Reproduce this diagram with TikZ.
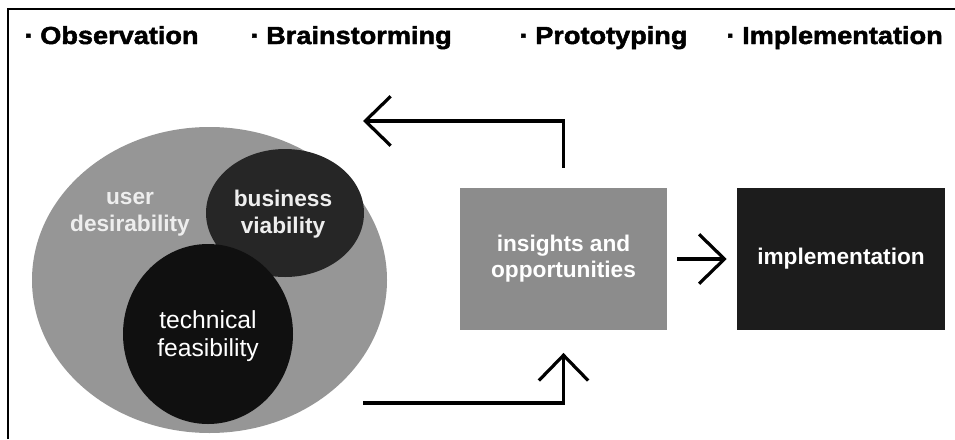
\documentclass[tikz,border=0pt]{standalone}
\usepackage{fontspec}
\setmainfont{Liberation Sans}
\newfontfamily\hdrfont[FakeBold=2,FakeStretch=1.1]{Liberation Sans Bold}
\usetikzlibrary{arrows.meta}
\definecolor{ringgray}{HTML}{969696}
\definecolor{bizdark}{HTML}{262626}
\definecolor{techdark}{HTML}{101010}
\definecolor{insightgray}{HTML}{8C8C8C}
\definecolor{impldark}{HTML}{1C1C1C}
\definecolor{softwhite}{HTML}{EEEEEE}
\tikzset{
  hdr/.style={anchor=base west, inner sep=0pt, font=\fontsize{18.5}{22}\hdrfont},
  venntext/.style={align=center, inner sep=0pt, font=\fontsize{17}{20.5}\selectfont\bfseries},
  boxtext/.style={align=center, text=white, font=\fontsize{17}{19.5}\selectfont\bfseries},
  flow/.style={line width=2.4pt, -{Straight Barb[length=19pt,width=37pt,line width=2.4pt]}},
  frame/.style={line width=1.8pt}
}
\newcommand{\hdot}{\makebox[0pt][r]{·\hspace{5pt}}}
\begin{document}
\begin{tikzpicture}[x=0.75pt,y=-0.75pt]
\useasboundingbox (0,0) rectangle (955,439);

% frame: top rule and left rule only
\draw[frame] (8,439) -- (8,9) -- (955,9);

% phase headings
\node[hdr] (obs)   at (40,44)  {\hdot Observation};
\node[hdr] (brain) at (266,44) {\hdot Brainstorming};
\node[hdr] (proto) at (535,44) {\hdot Prototyping};
\node[hdr, anchor=base east] (impl) at (943,44) {\hdot Implementation};

% three overlapping circles
\fill[ringgray] (209.5,280) ellipse [x radius=177.5, y radius=153];
\fill[bizdark]  (285,213) ellipse [x radius=79, y radius=64];
\fill[techdark] (208,334) ellipse [x radius=85, y radius=90];

\node[venntext, text=softwhite] (user) at (130,214) {user\\desirability};
\node[venntext, text=softwhite] (biz)  at (283,214) {business\\viability};
\node[align=center, inner sep=0pt, text=white, font=\fontsize{18.5}{21}\selectfont] (tech) at (208,336) {technical\\feasibility};

% boxes
\node[fill=insightgray, minimum width=155.25pt, minimum height=106.5pt, boxtext, inner sep=0pt]
  (ins) at (563.5,259) {insights and\\opportunities};
\node[fill=impldark, minimum width=156pt, minimum height=106.5pt, boxtext, inner sep=0pt]
  (imp) at (841,259) {implementation};

% loose ends of the loop
\coordinate (loopout) at (363,121);
\coordinate (loopin)  at (363,403);

% connectors
\draw[flow] ([yshift=15pt]ins.north) |- (loopout);
\draw[flow, shorten >=17pt] (loopin) -| (ins.south);
\draw[flow, shorten <=7.5pt, shorten >=7.5pt] (ins.east) -- (imp.west);
\end{tikzpicture}
\end{document}
